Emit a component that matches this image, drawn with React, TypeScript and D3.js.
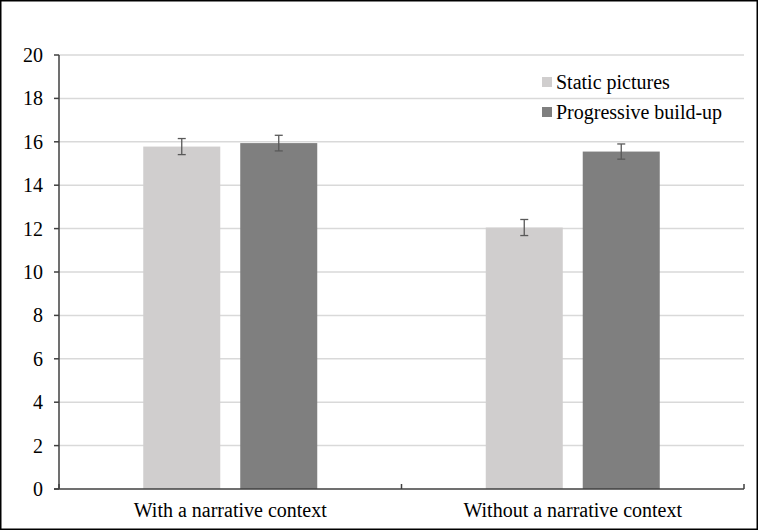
import React from 'react'
import * as d3 from 'd3'

const categories = ['With a narrative context', 'Without a narrative context']
const seriesNames = ['Static pictures', 'Progressive build-up']
const seriesColors = ['#D0CECE', '#7F7F7F']
const staticValues = [15.78, 12.05]
const progressiveValues = [15.94, 15.55]
const staticErrors = [0.37, 0.37]
const progressiveErrors = [0.36, 0.35]
const yTicks = [0, 2, 4, 6, 8, 10, 12, 14, 16, 18, 20]

const width = 758
const height = 530
const margin = { top: 55, right: 14, bottom: 41, left: 59 }
const font = 'Liberation Serif, DejaVu Serif, serif'
const fontSize = 20

const App: React.FC = () => {
  const x0 = d3
    .scaleBand<string>()
    .domain(categories)
    .range([margin.left, width - margin.right])

  // two bars of ~77px with a ~20px gap, centred in each category
  const x1 = d3
    .scaleBand<string>()
    .domain(seriesNames)
    .range([0, 174])
    .paddingInner(0.206)

  const y = d3
    .scaleLinear()
    .domain([0, 20])
    .range([height - margin.bottom, margin.top])

  const rows = categories.map((c, i) => ({
    category: c,
    bars: [
      { name: seriesNames[0], value: staticValues[i], err: staticErrors[i], color: seriesColors[0] },
      { name: seriesNames[1], value: progressiveValues[i], err: progressiveErrors[i], color: seriesColors[1] },
    ],
  }))

  const groupOffset = (x0.bandwidth() - 174) / 2
  const baseY = y(0)

  return (
    <div style={{ position: 'fixed', left: 0, top: 0 }}>
      <svg width={width} height={height} style={{ display: 'block' }}>
        <rect x={0} y={0} width={width} height={height} fill="#fff" />

        {/* gridlines */}
        {yTicks.slice(1).map(t => (
          <line
            key={t}
            x1={margin.left}
            x2={width - margin.right}
            y1={y(t)}
            y2={y(t)}
            stroke="#D9D9D9"
            strokeWidth={1.5}
          />
        ))}

        {/* bars */}
        {rows.map(r => (
          <g key={r.category} transform={`translate(${(x0(r.category) ?? 0) + groupOffset},0)`}>
            {r.bars.map(b => {
              const bx = x1(b.name) ?? 0
              const cx = bx + x1.bandwidth() / 2
              return (
                <g key={b.name}>
                  <rect
                    x={bx}
                    y={y(b.value)}
                    width={x1.bandwidth()}
                    height={baseY - y(b.value)}
                    fill={b.color}
                  />
                  <line x1={cx} x2={cx} y1={y(b.value + b.err)} y2={y(b.value - b.err)} stroke="#595959" strokeWidth={1.3} />
                  <line x1={cx - 4} x2={cx + 4} y1={y(b.value + b.err)} y2={y(b.value + b.err)} stroke="#595959" strokeWidth={1.3} />
                  <line x1={cx - 4} x2={cx + 4} y1={y(b.value - b.err)} y2={y(b.value - b.err)} stroke="#595959" strokeWidth={1.3} />
                </g>
              )
            })}
          </g>
        ))}

        {/* y axis */}
        <line x1={margin.left} x2={margin.left} y1={y(20)} y2={baseY} stroke="#404040" strokeWidth={1.5} />
        {yTicks.map(t => (
          <g key={t}>
            <line x1={margin.left - 5} x2={margin.left} y1={y(t)} y2={y(t)} stroke="#404040" strokeWidth={1.5} />
            <text
              x={margin.left - 16}
              y={y(t)}
              dy="0.35em"
              textAnchor="end"
              fontSize={fontSize}
              fontFamily={font}
              fill="#000"
            >
              {t}
            </text>
          </g>
        ))}

        {/* x axis */}
        <line x1={margin.left - 5} x2={width - margin.right} y1={baseY} y2={baseY} stroke="#404040" strokeWidth={1.5} />
        {[...categories.map(c => x0(c) ?? 0), width - margin.right].map((px, i) => (
          <line key={i} x1={px} x2={px} y1={baseY} y2={baseY - 5} stroke="#404040" strokeWidth={1.5} />
        ))}
        {categories.map(c => (
          <text
            key={c}
            x={(x0(c) ?? 0) + x0.bandwidth() / 2}
            y={baseY + 28}
            textAnchor="middle"
            fontSize={fontSize}
            fontFamily={font}
            fill="#000"
          >
            {c}
          </text>
        ))}

        {/* legend */}
        {seriesNames.map((s, i) => (
          <g key={s} transform={`translate(542,${82 + i * 30})`}>
            <rect x={0} y={-5} width={10} height={10} fill={seriesColors[i]} />
            <text x={14} y={0} dy="0.35em" fontSize={fontSize} fontFamily={font} fill="#000">
              {s}
            </text>
          </g>
        ))}

        <rect x={0.75} y={0.75} width={width - 1.5} height={height - 1.5} fill="none" stroke="#000" strokeWidth={1.5} />
      </svg>
    </div>
  )
}

export default App
